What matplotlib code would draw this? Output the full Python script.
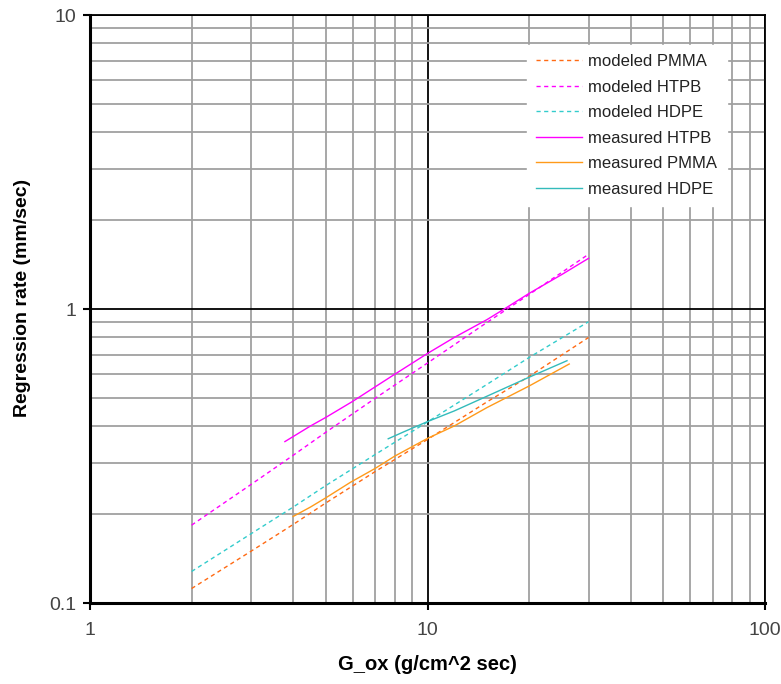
import matplotlib
matplotlib.use("Agg")
import matplotlib.pyplot as plt
from matplotlib.ticker import LogLocator, FixedLocator, NullFormatter

plt.rcParams['font.family'] = ['Liberation Sans', 'DejaVu Sans']

# modeled curves
mod_x = [2, 3, 4, 5, 7, 10, 15, 20, 30]
mod_pmma = [0.112, 0.150, 0.185, 0.219, 0.280, 0.360, 0.483, 0.590, 0.800]
mod_htpb = [0.184, 0.253, 0.318, 0.381, 0.497, 0.655, 0.900, 1.120, 1.535]
mod_hdpe = [0.128, 0.172, 0.212, 0.251, 0.320, 0.413, 0.554, 0.684, 0.905]

# measured curves
meas_htpb_x = [3.78, 4.5, 5, 6, 6.85, 8, 10, 12, 15, 17, 20, 25, 30]
meas_htpb_y = [0.354, 0.400, 0.428, 0.485, 0.535, 0.600, 0.706, 0.800, 0.920, 1.005, 1.130, 1.310, 1.487]

meas_pmma_x = [4, 4.5, 5, 5.9, 7, 8, 10, 12, 15, 20, 26.3]
meas_pmma_y = [0.197, 0.212, 0.228, 0.257, 0.287, 0.316, 0.363, 0.400, 0.462, 0.547, 0.650]

meas_hdpe_x = [7.65, 8.5, 10, 12, 15, 18, 20, 25.9]
meas_hdpe_y = [0.362, 0.382, 0.414, 0.450, 0.505, 0.555, 0.586, 0.667]


def main():
    fig = plt.figure(figsize=(7.81, 6.84), dpi=100)
    ax = fig.add_axes([90 / 781, 81 / 684, 675 / 781, 588 / 684])
    ax.set_xscale("log")
    ax.set_yscale("log")
    ax.set_xlim(1, 100)
    ax.set_ylim(0.1, 10)

    # grid: minor grey, major black
    ax.xaxis.set_minor_locator(LogLocator(base=10, subs=range(2, 10)))
    ax.yaxis.set_minor_locator(LogLocator(base=10, subs=range(2, 10)))
    ax.xaxis.set_minor_formatter(NullFormatter())
    ax.yaxis.set_minor_formatter(NullFormatter())
    ax.grid(which="minor", color="#a0a0a0", lw=1.3)
    ax.grid(which="major", color="black", lw=1.3)
    ax.set_axisbelow(True)
    ax.tick_params(which="minor", length=0)
    ax.tick_params(which="major", direction="out", length=5, width=1.5,
                   labelsize=14, labelcolor="#444444", pad=9)
    ax.xaxis.set_major_locator(FixedLocator([1, 10, 100]))
    ax.yaxis.set_major_locator(FixedLocator([0.1, 1, 10]))
    ax.set_xticklabels(["1", "10", "100"])
    ax.set_yticklabels(["0.1", "1", "10"])
    ax.tick_params(axis="y", pad=5)

    for side in ["left", "bottom"]:
        ax.spines[side].set_linewidth(2.2)
    for side in ["top", "right"]:
        ax.spines[side].set_linewidth(1.3)

    dash = (0, (3, 2.5))
    ax.plot(mod_x, mod_pmma, color="#ff6a13", ls=dash, lw=1, label="modeled PMMA")
    ax.plot(mod_x, mod_htpb, color="#ff00ff", ls=dash, lw=1, label="modeled HTPB")
    ax.plot(mod_x, mod_hdpe, color="#33cccc", ls=dash, lw=1, label="modeled HDPE")
    ax.plot(meas_htpb_x, meas_htpb_y, color="#ff00ff", lw=1, label="measured HTPB")
    ax.plot(meas_pmma_x, meas_pmma_y, color="#ff9a1a", lw=1, label="measured PMMA")
    ax.plot(meas_hdpe_x, meas_hdpe_y, color="#33bbbb", lw=1, label="measured HDPE")

    leg = ax.legend(loc="upper left", bbox_to_anchor=(0.647, 0.949), fontsize=12,
                    frameon=True, fancybox=False, handlelength=2.75,
                    labelspacing=0.63, borderpad=0.55, handletextpad=0.4,
                    borderaxespad=0)
    leg.get_frame().set_edgecolor("white")
    leg.get_frame().set_facecolor("white")
    leg.get_frame().set_alpha(1)
    for t in leg.get_texts():
        t.set_color("#222222")

    ax.set_xlabel("G_ox (g/cm^2 sec)", fontsize=14.5, fontweight="bold", labelpad=11)
    ax.set_ylabel("Regression rate (mm/sec)", fontsize=14, fontweight="bold", labelpad=13)
    ax.yaxis.label.set_y(0.519)

    fig.savefig("out.png", dpi=100)
    plt.close(fig)


if __name__ == "__main__":
    main()
